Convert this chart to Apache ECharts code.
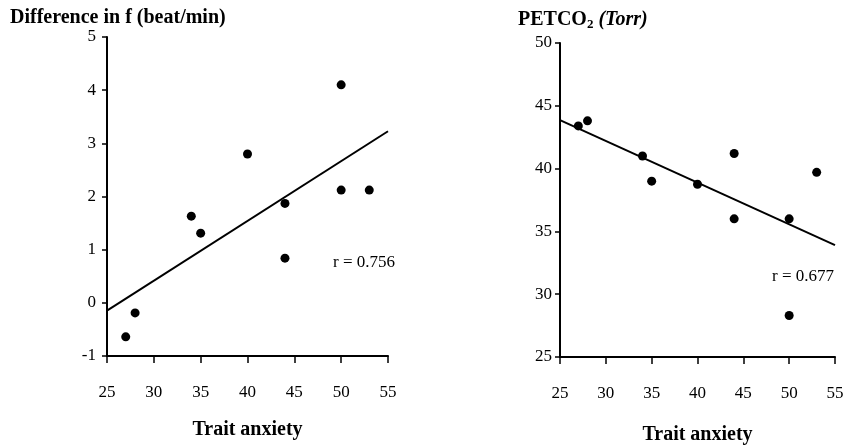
<!DOCTYPE html>
<html>
<head>
<meta charset="utf-8">
<script src="https://cdn.jsdelivr.net/npm/echarts@6/dist/echarts.min.js"></script>
<style>
  html, body { margin: 0; padding: 0; background: #fff; }
  #chart { width: 850px; height: 447px; }
</style>
</head>
<body>
<div id="chart"></div>
<script>
// Trait anxiety score for each subject (shared by both panels)
const traitAnxiety = [27, 28, 34, 35, 40, 44, 44, 50, 50, 53];
// Difference in breathing frequency f (beat/min)
const freqDiff = [-0.64, -0.19, 1.63, 1.31, 2.8, 1.87, 0.84, 4.1, 2.12, 2.12];
// End-tidal PCO2 (Torr)
const petco2 = [43.4, 43.8, 41.0, 39.0, 38.75, 41.2, 36.0, 36.0, 28.3, 39.7];

const xTicks = [25, 30, 35, 40, 45, 50, 55];
const freqTicks = [-1, 0, 1, 2, 3, 4, 5];
const petTicks = [25, 30, 35, 40, 45, 50];

const rFreq = 'r = 0.756';
const rPet = 'r = 0.677';

// least-squares fit evaluated at the ends of the x axis
function fitLine(xs, ys, x0, x1) {
  const n = xs.length;
  const mx = xs.reduce((a, b) => a + b, 0) / n;
  const my = ys.reduce((a, b) => a + b, 0) / n;
  let sxy = 0, sxx = 0;
  for (let i = 0; i < n; i++) {
    sxy += (xs[i] - mx) * (ys[i] - my);
    sxx += (xs[i] - mx) * (xs[i] - mx);
  }
  const b = sxy / sxx, a = my - b * mx;
  return [[x0, a + b * x0], [x1, a + b * x1]];
}

const serif = '"Liberation Serif", "DejaVu Serif", serif';
const ink = '#000';

function xAxisCfg(gridIndex, gap) {
  return {
    gridIndex, type: 'value',
    min: xTicks[0], max: xTicks[xTicks.length - 1], interval: 5,
    name: 'Trait anxiety', nameLocation: 'middle', nameGap: gap,
    nameTextStyle: { fontFamily: serif, fontWeight: 'bold', fontSize: 20, color: ink },
    axisLine: { show: true, onZero: false, lineStyle: { color: ink, width: 2 } },
    axisTick: { show: true, inside: false, length: 7, lineStyle: { color: ink, width: 1.5 } },
    axisLabel: { fontFamily: serif, fontSize: 17, color: ink, margin: 28 },
    splitLine: { show: false }
  };
}

function yAxisCfg(gridIndex, ticks, step, margin) {
  return {
    gridIndex, type: 'value',
    min: ticks[0], max: ticks[ticks.length - 1], interval: step,
    axisLine: { show: true, onZero: false, lineStyle: { color: ink, width: 2 } },
    axisTick: { show: true, inside: false, length: 5, lineStyle: { color: ink, width: 1.5 } },
    axisLabel: { fontFamily: serif, fontSize: 17, color: ink, margin },
    splitLine: { show: false }
  };
}

function pts(xs, ys) { return xs.map((x, i) => [x, ys[i]]); }

const chart = echarts.init(document.getElementById('chart'), null, { renderer: 'canvas' });
chart.setOption({
  animation: false,
  backgroundColor: '#fff',
  title: [
    {
      text: 'Difference in f (beat/min)', left: 5, top: 3,
      textStyle: { fontFamily: serif, fontWeight: 'bold', fontSize: 20, color: ink }
    },
    {
      text: '{b|PETCO}{s|2}{i| (Torr)}', left: 513, top: 3,
      textStyle: {
        rich: {
          b: { fontFamily: serif, fontWeight: 'bold', fontSize: 20, color: ink },
          s: { fontFamily: serif, fontWeight: 'bold', fontSize: 13, color: ink, verticalAlign: 'bottom', padding: [10, 0, 0, 0] },
          i: { fontFamily: serif, fontWeight: 'bold', fontStyle: 'italic', fontSize: 20, color: ink }
        }
      }
    }
  ],
  grid: [
    { left: 107, top: 37, width: 281, height: 319, containLabel: false, outerBoundsMode: 'none' },
    { left: 560, top: 43, width: 275, height: 314, containLabel: false, outerBoundsMode: 'none' }
  ],
  xAxis: [xAxisCfg(0, 64), xAxisCfg(1, 68)],
  yAxis: [yAxisCfg(0, freqTicks, 1, 11), yAxisCfg(1, petTicks, 5, 8)],
  series: [
    {
      type: 'scatter', xAxisIndex: 0, yAxisIndex: 0,
      data: pts(traitAnxiety, freqDiff), symbolSize: 9,
      itemStyle: { color: ink, opacity: 1 }
    },
    {
      type: 'line', xAxisIndex: 0, yAxisIndex: 0,
      data: fitLine(traitAnxiety, freqDiff, xTicks[0], xTicks[xTicks.length - 1]),
      showSymbol: false, lineStyle: { color: ink, width: 2 }
    },
    {
      type: 'scatter', xAxisIndex: 1, yAxisIndex: 1,
      data: pts(traitAnxiety, petco2), symbolSize: 9,
      itemStyle: { color: ink, opacity: 1 }
    },
    {
      type: 'line', xAxisIndex: 1, yAxisIndex: 1,
      data: fitLine(traitAnxiety, petco2, xTicks[0], xTicks[xTicks.length - 1]),
      showSymbol: false, lineStyle: { color: ink, width: 2 }
    }
  ],
  graphic: [
    {
      type: 'text', left: 333, top: 254,
      style: { text: rFreq, font: '17px ' + serif, fill: ink }
    },
    {
      type: 'text', left: 772, top: 268,
      style: { text: rPet, font: '17px ' + serif, fill: ink }
    }
  ]
});
</script>
</body>
</html>
